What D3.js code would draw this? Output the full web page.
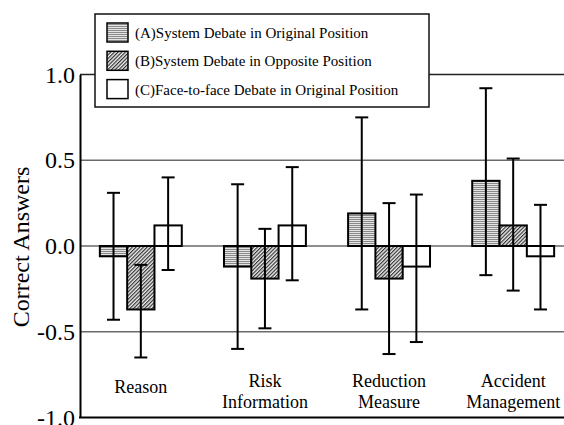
<!DOCTYPE html>
<html>
<head>
<meta charset="utf-8">
<script src="https://cdn.jsdelivr.net/npm/d3@7"></script>
<style>
  body { margin: 0; background: #fff; }
  text { font-family: "Liberation Serif", "Times New Roman", serif; fill: #000; }
</style>
</head>
<body>
<div id="chart"></div>
<script>
// categories (two-line labels)
var categories = ["Reason", "Risk Information", "Reduction Measure", "Accident Management"];
var categoryLines = [["Reason"], ["Risk", "Information"], ["Reduction", "Measure"], ["Accident", "Management"]];
var seriesNames = [
  "(A)System Debate in Original Position",
  "(B)System Debate in Opposite Position",
  "(C)Face-to-face Debate in Original Position"
];
// means
var meanA = [-0.06, -0.12, 0.19, 0.38];
var meanB = [-0.37, -0.19, -0.19, 0.12];
var meanC = [0.12, 0.12, -0.12, -0.06];
// error bar ends
var lowA = [-0.43, -0.60, -0.37, -0.17];
var highA = [0.31, 0.36, 0.75, 0.92];
var lowB = [-0.65, -0.48, -0.63, -0.26];
var highB = [-0.11, 0.10, 0.25, 0.51];
var lowC = [-0.14, -0.20, -0.56, -0.37];
var highC = [0.40, 0.46, 0.30, 0.24];
var yTicks = [-1.0, -0.5, 0.0, 0.5, 1.0];

var svgWidth = 564, svgHeight = 425;
var margin = {top: 74.5, left: 80, bottom: 7.5};
var plotBottom = svgHeight - margin.bottom;

var svg = d3.select("#chart").append("svg")
  .attr("width", svgWidth)
  .attr("height", svgHeight);

var defs = svg.append("defs");
// horizontal stripes for series A
var pA = defs.append("pattern").attr("id", "patA")
  .attr("patternUnits", "userSpaceOnUse").attr("width", 4).attr("height", 2);
pA.append("rect").attr("width", 4).attr("height", 2).attr("fill", "#e4e4e4");
pA.append("rect").attr("y", 1).attr("width", 4).attr("height", 1).attr("fill", "#8a8a8a");
// diagonal hatch for series B
var pB = defs.append("pattern").attr("id", "patB")
  .attr("patternUnits", "userSpaceOnUse").attr("width", 2.6).attr("height", 2.6)
  .attr("patternTransform", "rotate(45)");
pB.append("rect").attr("width", 2.6).attr("height", 2.6).attr("fill", "#f0f0f0");
pB.append("rect").attr("width", 1.2).attr("height", 2.6).attr("fill", "#333");
var fills = ["url(#patA)", "url(#patB)", "#fff"];

var y = d3.scaleLinear().domain([-1, 1]).range([plotBottom, margin.top]);
var x0 = d3.scaleBand().domain(categories).range([margin.left, 574])
  .paddingInner(0.34).paddingOuter(0.16);
var x1 = d3.scaleBand().domain([0, 1, 2]).range([0, x0.bandwidth()]);

var data = [];
categories.forEach(function(c, i) {
  [[meanA, lowA, highA], [meanB, lowB, highB], [meanC, lowC, highC]].forEach(function(s, k) {
    data.push({cat: c, s: k, mean: s[0][i], low: s[1][i], high: s[2][i]});
  });
});

// gridlines
svg.append("g").selectAll("line").data([-0.5, 0, 0.5, 1]).enter().append("line")
  .attr("x1", margin.left).attr("x2", svgWidth)
  .attr("y1", d => y(d)).attr("y2", d => y(d))
  .attr("stroke", d => d === 1 ? "#222" : "#6a6a6a")
  .attr("stroke-width", 1.5);

// bars
svg.append("g").selectAll("rect").data(data).enter().append("rect")
  .attr("x", d => x0(d.cat) + x1(d.s))
  .attr("width", x1.bandwidth())
  .attr("y", d => y(Math.max(0, d.mean)))
  .attr("height", d => Math.abs(y(d.mean) - y(0)))
  .attr("fill", d => fills[d.s])
  .attr("stroke", "#000")
  .attr("stroke-width", 2);

// error bars
var eb = svg.append("g").selectAll("g").data(data).enter().append("g")
  .attr("stroke", "#000").attr("stroke-width", 2);
var cx = d => x0(d.cat) + x1(d.s) + x1.bandwidth() / 2;
eb.append("line").attr("x1", cx).attr("x2", cx)
  .attr("y1", d => y(d.low)).attr("y2", d => y(d.high));
eb.append("line").attr("x1", d => cx(d) - 6.5).attr("x2", d => cx(d) + 6.5)
  .attr("y1", d => y(d.low)).attr("y2", d => y(d.low));
eb.append("line").attr("x1", d => cx(d) - 6.5).attr("x2", d => cx(d) + 6.5)
  .attr("y1", d => y(d.high)).attr("y2", d => y(d.high));

// axes
var yAxis = svg.append("g").attr("transform", `translate(${margin.left},0)`)
  .call(d3.axisLeft(y).tickValues(yTicks).tickSize(0).tickPadding(5)
    .tickFormat(d => d.toFixed(1)));
yAxis.select(".domain").attr("stroke", "#000").attr("stroke-width", 2);
yAxis.selectAll("text").style("font-size", "24px")
  .style("font-family", "'Liberation Serif', serif");

svg.append("line").attr("x1", margin.left - 1).attr("x2", svgWidth)
  .attr("y1", plotBottom).attr("y2", plotBottom)
  .attr("stroke", "#000").attr("stroke-width", 2);

svg.append("text")
  .attr("transform", `translate(29,${y(0) + 1}) rotate(-90)`)
  .attr("text-anchor", "middle")
  .style("font-size", "24px")
  .text("Correct Answers");

// category labels
var cl = svg.append("g").selectAll("text").data(categories).enter().append("text")
  .attr("text-anchor", "middle")
  .attr("x", d => x0(d) + x0.bandwidth() / 2)
  .attr("y", (d, i) => categoryLines[i].length === 1 ? 393 : 387)
  .style("font-size", "18px");
cl.selectAll("tspan").data((d, i) => categoryLines[i]).enter().append("tspan")
  .attr("x", function() { return d3.select(this.parentNode).attr("x"); })
  .attr("dy", (d, j) => j === 0 ? 0 : 21)
  .text(d => d);

// legend
var legend = svg.append("g");
legend.append("rect").attr("x", 95).attr("y", 14).attr("width", 334).attr("height", 93)
  .attr("fill", "#fff").attr("stroke", "#111").attr("stroke-width", 1.5);
var li = legend.selectAll("g.item").data(seriesNames).enter().append("g")
  .attr("transform", (d, i) => `translate(107,${23 + i * 28.3})`);
li.append("rect").attr("width", 21).attr("height", 19)
  .attr("fill", (d, i) => fills[i]).attr("stroke", "#000").attr("stroke-width", 1.5);
li.append("text").attr("x", 28).attr("y", 15).style("font-size", "15px").text(d => d);
</script>
</body>
</html>
